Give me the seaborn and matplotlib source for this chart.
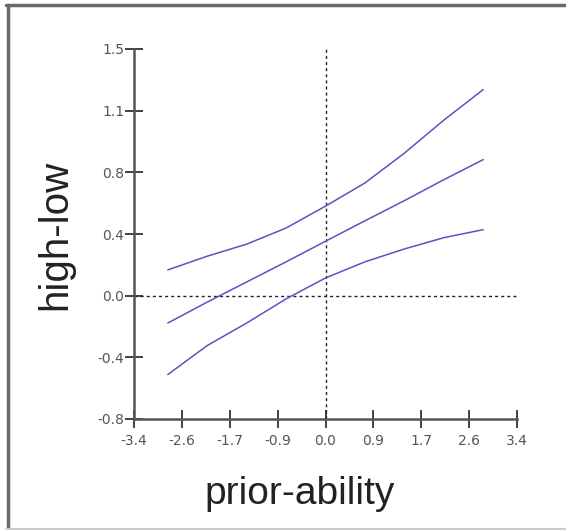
import numpy as np
import pandas as pd
import matplotlib
matplotlib.use("Agg")
import matplotlib.pyplot as plt
import seaborn as sns
from matplotlib.lines import Line2D

# ---- data ----
x_vals = [-2.8, -2.1, -1.4, -0.7, 0.0, 0.7, 1.4, 2.1, 2.8]
mid_vals = [-0.17, -0.04, 0.085, 0.21, 0.338, 0.465, 0.59, 0.72, 0.845]
upper_vals = [0.16, 0.245, 0.32, 0.42, 0.556, 0.70, 0.885, 1.09, 1.28]
lower_vals = [-0.49, -0.31, -0.17, -0.02, 0.11, 0.21, 0.29, 0.36, 0.41]

y_ticks = [-0.766, -0.383, 0.0, 0.383, 0.766, 1.149, 1.532]
y_labels = ["-0.8", "-0.4", "0.0", "0.4", "0.8", "1.1", "1.5"]
x_ticks = [-3.4, -2.55, -1.7, -0.85, 0.0, 0.85, 1.7, 2.55, 3.4]
x_labels = ["-3.4", "-2.6", "-1.7", "-0.9", "0.0", "0.9", "1.7", "2.6", "3.4"]

df = pd.DataFrame({
    "x": x_vals * 3,
    "y": mid_vals + upper_vals + lower_vals,
    "series": ["mid"] * len(x_vals) + ["upper"] * len(x_vals) + ["lower"] * len(x_vals),
})

sns.set_theme(style="white")
plt.rcParams["font.family"] = ["Liberation Sans", "DejaVu Sans"]

fig = plt.figure(figsize=(5.66, 5.30), dpi=100)
ax = fig.add_axes([134 / 566, 1 - 419 / 530, (517 - 134) / 566, (419 - 49) / 530])

line_color = "#5555c4"
sns.lineplot(data=df, x="x", y="y", units="series", estimator=None,
             color=line_color, linewidth=1.1, ax=ax, legend=False)

ax.set_xlim(-3.4, 3.4)
ax.set_ylim(-0.766, 1.532)

# reference lines
ax.axhline(0, color="#222222", linestyle=(0, (2.2, 2.2)), linewidth=1.0, zorder=1)
ax.axvline(0, color="#222222", linestyle=(0, (2.2, 2.2)), linewidth=1.0, zorder=1)

ax.set_xticks(x_ticks)
ax.set_xticklabels(x_labels)
ax.set_yticks(y_ticks)
ax.set_yticklabels(y_labels)
ax.tick_params(axis="both", bottom=True, left=True, direction="inout", length=13,
               width=1.3, color="#333333", labelsize=10, labelcolor="#555555")
ax.tick_params(axis="x", pad=4)
ax.tick_params(axis="y", pad=0.5)
for lab in ax.get_xticklabels() + ax.get_yticklabels():
    lab.set_family("DejaVu Sans")

for side in ["top", "right"]:
    ax.spines[side].set_visible(False)
for side in ["left", "bottom"]:
    ax.spines[side].set_color("#555555")
    ax.spines[side].set_linewidth(1.8)

ax.set_xlabel("")
ax.set_ylabel("")

fig.text(300 / 566, 1 - 494 / 530, "prior-ability", ha="center", va="center",
         fontsize=28, color="#222222")
fig.text(55 / 566, 1 - 235 / 530, "high-low", ha="center", va="center",
         rotation=90, fontsize=29, color="#222222")

# frame border (dark left/top, light bottom)
fig.add_artist(Line2D([7.5 / 566, 7.5 / 566], [0, 1 - 5 / 530], transform=fig.transFigure,
                      color="#6a6a6a", linewidth=2.5))
fig.add_artist(Line2D([6 / 566, 1], [1 - 5 / 530, 1 - 5 / 530], transform=fig.transFigure,
                      color="#6a6a6a", linewidth=2.5))
fig.add_artist(Line2D([6 / 566, 1], [1.5 / 530, 1.5 / 530], transform=fig.transFigure,
                      color="#cccccc", linewidth=1.5))

fig.savefig("out.png", dpi=100, facecolor="white")
